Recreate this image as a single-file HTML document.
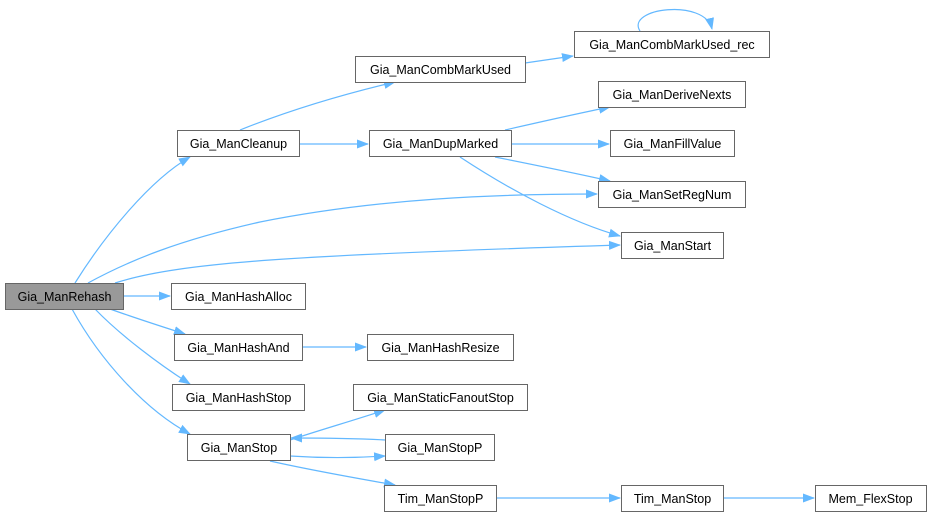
<!DOCTYPE html>
<html><head><meta charset="utf-8"><style>
html,body{margin:0;padding:0;background:#fff;}
svg text{font-family:"Liberation Sans",Arial,sans-serif;font-size:12.5px;fill:#000;}
</style></head><body>
<svg width="931" height="517" viewBox="0 0 931 517" xmlns="http://www.w3.org/2000/svg">
<defs>
<marker id="a" markerWidth="12" markerHeight="10" refX="11" refY="5" orient="auto" markerUnits="userSpaceOnUse">
<path d="M0,0.5 L12,5 L0,9.5 Z" fill="#63b8ff"/>
</marker>
</defs>
<g fill="none" stroke="#63b8ff" stroke-width="1.2" marker-end="url(#a)">
<path d="M75,283 C105,235 150,180 190,157"/>
<path d="M88,283 C130,260 180,240 260,222 C380,198 500,194 597,194"/>
<path d="M115,283 C180,262 300,255 620,245"/>
<path d="M123,296 L170,296"/>
<path d="M110,309 C135,318 160,326 185,334"/>
<path d="M95,309 C120,335 160,365 190,384"/>
<path d="M72,309 C100,360 145,410 190,434"/>
<path d="M240,130 C290,110 340,95 395,82"/>
<path d="M299,144 L368,144"/>
<path d="M525,63 L573,56"/>
<path d="M640,31 C625,8 705,-2 712,29"/>
<path d="M505,130 C540,122 575,114 610,107"/>
<path d="M511,144 L609,144"/>
<path d="M495,157 C535,165 575,173 610,181"/>
<path d="M460,157 C510,190 570,222 620,236"/>
<path d="M302,347 L366,347"/>
<path d="M290,440 C320,430 355,420 385,410"/>
<path d="M290,456 C320,458 355,458 385,456"/>
<path d="M385,440 C350,438 320,438 291,438"/>
<path d="M270,461 C310,470 355,478 395,485"/>
<path d="M496,498 L620,498"/>
<path d="M723,498 L814,498"/>
</g>
<g stroke="#666" stroke-width="1" fill="#fff">
<rect x="5.5" y="283.5" width="118" height="26" fill="#999"/>
<rect x="177.5" y="130.5" width="122" height="26"/>
<rect x="355.5" y="56.5" width="170" height="26"/>
<rect x="574.5" y="31.5" width="195" height="26"/>
<rect x="369.5" y="130.5" width="142" height="26"/>
<rect x="598.5" y="81.5" width="147" height="26"/>
<rect x="610.5" y="130.5" width="124" height="26"/>
<rect x="598.5" y="181.5" width="147" height="26"/>
<rect x="621.5" y="232.5" width="102" height="26"/>
<rect x="171.5" y="283.5" width="134" height="26"/>
<rect x="174.5" y="334.5" width="128" height="26"/>
<rect x="367.5" y="334.5" width="146" height="26"/>
<rect x="172.5" y="384.5" width="132" height="26"/>
<rect x="353.5" y="384.5" width="174" height="26"/>
<rect x="187.5" y="434.5" width="103" height="26"/>
<rect x="385.5" y="434.5" width="109" height="26"/>
<rect x="384.5" y="485.5" width="112" height="26"/>
<rect x="621.5" y="485.5" width="102" height="26"/>
<rect x="815.5" y="485.5" width="111" height="26"/>
</g>
<g text-anchor="middle">
<text x="64.5" y="301">Gia_ManRehash</text>
<text x="238.5" y="148">Gia_ManCleanup</text>
<text x="440.5" y="74">Gia_ManCombMarkUsed</text>
<text x="672" y="49">Gia_ManCombMarkUsed_rec</text>
<text x="440.5" y="148">Gia_ManDupMarked</text>
<text x="672" y="99">Gia_ManDeriveNexts</text>
<text x="672.5" y="148">Gia_ManFillValue</text>
<text x="672" y="199">Gia_ManSetRegNum</text>
<text x="672.5" y="250">Gia_ManStart</text>
<text x="238.5" y="301">Gia_ManHashAlloc</text>
<text x="238.5" y="352">Gia_ManHashAnd</text>
<text x="440.5" y="352">Gia_ManHashResize</text>
<text x="238.5" y="402">Gia_ManHashStop</text>
<text x="440.5" y="402">Gia_ManStaticFanoutStop</text>
<text x="239" y="452">Gia_ManStop</text>
<text x="440" y="452">Gia_ManStopP</text>
<text x="440.5" y="503">Tim_ManStopP</text>
<text x="672.5" y="503">Tim_ManStop</text>
<text x="870.5" y="503">Mem_FlexStop</text>
</g>
</svg>
</body></html>
